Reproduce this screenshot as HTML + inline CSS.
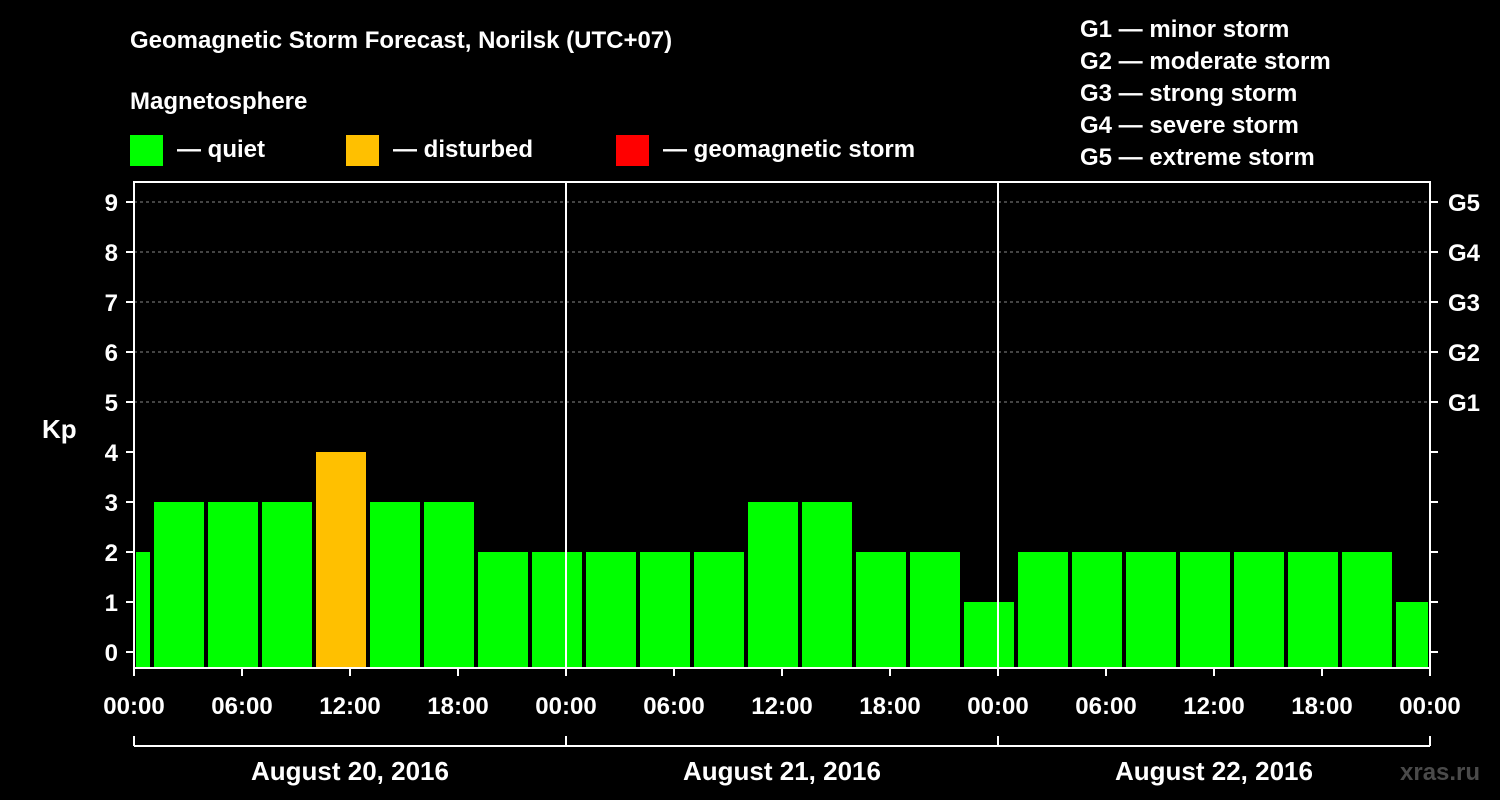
<!DOCTYPE html>
<html><head><meta charset="utf-8"><style>
html,body{margin:0;padding:0;background:#000;width:1500px;height:800px;overflow:hidden}
svg{display:block}
text{font-family:"Liberation Sans",Arial,sans-serif;font-weight:bold;fill:#fff}
</style></head><body>
<svg id="chart" width="1500" height="800" viewBox="0 0 1500 800">
<text x="130" y="48" font-size="24">Geomagnetic Storm Forecast, Norilsk (UTC+07)</text>
<text x="130" y="109" font-size="24">Magnetosphere</text>
<g><rect x="130" y="135" width="33" height="31" fill="#00ff00"/><text x="177" y="157" font-size="24">— quiet</text></g>
<g><rect x="346" y="135" width="33" height="31" fill="#ffc000"/><text x="393" y="157" font-size="24">— disturbed</text></g>
<g><rect x="616" y="135" width="33" height="31" fill="#ff0000"/><text x="663" y="157" font-size="24">— geomagnetic storm</text></g>
<g font-size="24">
<text x="1080" y="37">G1 — minor storm</text>
<text x="1080" y="69">G2 — moderate storm</text>
<text x="1080" y="101">G3 — strong storm</text>
<text x="1080" y="133">G4 — severe storm</text>
<text x="1080" y="165">G5 — extreme storm</text>
</g>
<text x="42" y="438" font-size="26">Kp</text>
<text x="1400" y="780" font-size="24" fill="#444" style="fill:#4a4a4a">xras.ru</text>
<g id="plot"></g>
</svg>
<script>
const kpValues=[2,3,3,3,4,3,3,2,2,2,2,2,3,3,2,2,1,2,2,2,2,2,2,2,1];
const dayLabels=["August 20, 2016","August 21, 2016","August 22, 2016"];
const hourLabels=["00:00","06:00","12:00","18:00"];
const gLabels=["G1","G2","G3","G4","G5"];
const X0=134,X1=1430,PXH=(X1-X0)/72,Y0=652,PXK=50,TOP=182,BOT=668;
const xs=h=>X0+h*PXH, ys=k=>Y0-k*PXK;
const ns="http://www.w3.org/2000/svg", g=document.getElementById('plot');
function mk(t,a,p){const e=document.createElementNS(ns,t);for(const k in a)e.setAttribute(k,a[k]);(p||g).appendChild(e);return e;}
// grid
for(let k=5;k<=9;k++){const l=mk('line',{x1:X0,x2:X1,y1:ys(k),y2:ys(k),stroke:'#888','stroke-dasharray':'3,3','stroke-width':1});

}
// bars
kpValues.forEach((v,i)=>{let h0=-2+3*i,h1=h0+3;let a=xs(Math.max(h0,0))+(h0<0?2:2),b=xs(Math.min(h1,72))-(h1>72?2:2);
const c=v>=5?'#ff0000':(v>=4?'#ffc000':'#00ff00');
const r=mk('rect',{x:a,y:ys(v),width:b-a,height:BOT-ys(v),fill:c});

});
// axes
mk('rect',{x:X0,y:TOP,width:X1-X0,height:BOT-TOP,fill:'none',stroke:'#fff','stroke-width':2});
[1,2].forEach(d=>{const l=mk('line',{x1:xs(24*d),x2:xs(24*d),y1:TOP,y2:BOT,stroke:'#fff','stroke-width':2});

});
for(let k=0;k<=9;k++){mk('line',{x1:X0-8,x2:X0,y1:ys(k),y2:ys(k),stroke:'#fff','stroke-width':2});
mk('line',{x1:X1,x2:X1+8,y1:ys(k),y2:ys(k),stroke:'#fff','stroke-width':2});
const t=mk('text',{x:X0-16,y:ys(k)+9,'font-size':24,'text-anchor':'end'});t.textContent=k;

}
gLabels.forEach((s,i)=>{const t=mk('text',{x:1448,y:ys(5+i)+9,'font-size':24});t.textContent=s;

});
for(let h=0;h<=72;h+=6){mk('line',{x1:xs(h),x2:xs(h),y1:BOT,y2:BOT+8,stroke:'#fff','stroke-width':2});
const t=mk('text',{x:xs(h),y:714,'font-size':24,'text-anchor':'middle'});t.textContent=hourLabels[(h/6)%4];

}
mk('line',{x1:X0,x2:X1,y1:746,y2:746,stroke:'#fff','stroke-width':2});
for(let d=0;d<=3;d++)mk('line',{x1:xs(24*d),x2:xs(24*d),y1:736,y2:746,stroke:'#fff','stroke-width':2});
dayLabels.forEach((s,d)=>{const t=mk('text',{x:xs(24*d+12),y:780,'font-size':26,'text-anchor':'middle'});t.textContent=s;

});
</script>
</body></html>
